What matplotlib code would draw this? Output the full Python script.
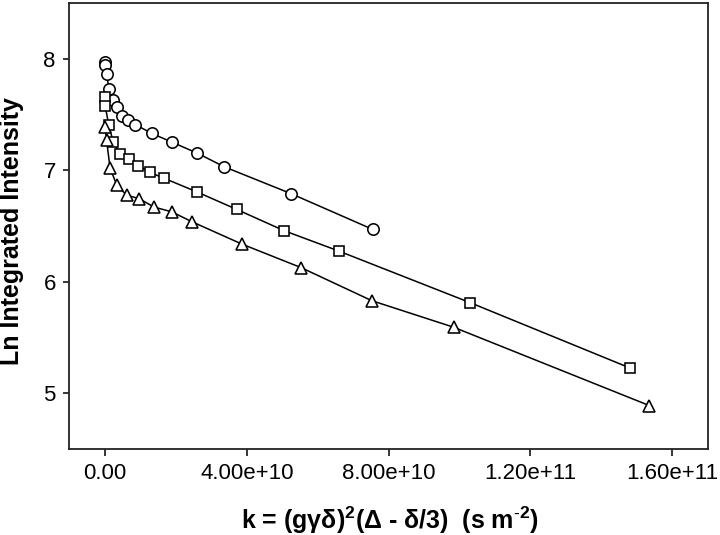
import matplotlib
matplotlib.use("Agg")
import matplotlib.pyplot as plt
from matplotlib.ticker import FuncFormatter, FixedLocator

plt.rcParams['font.family'] = ['Liberation Sans', 'DejaVu Sans']
plt.rcParams['mathtext.fontset'] = 'custom'
plt.rcParams['mathtext.rm'] = 'Liberation Sans'
plt.rcParams['mathtext.bf'] = 'Liberation Sans:bold'
plt.rcParams['mathtext.it'] = 'Liberation Sans:italic'

# Data (k in s m^-2, ln integrated intensity)
k_circle = [0, 0.02e9, 0.4e9, 1.1e9, 2.3e9, 3.4e9, 4.7e9, 6.5e9, 8.5e9,
            1.32e10, 1.90e10, 2.59e10, 3.37e10, 5.25e10, 7.55e10]
y_circle = [7.97, 7.94, 7.86, 7.73, 7.63, 7.57, 7.49, 7.45, 7.41,
            7.33, 7.25, 7.155, 7.03, 6.79, 6.47]

k_square = [0, 0.02e9, 1.0e9, 2.3e9, 4.2e9, 6.6e9, 9.4e9, 1.27e10, 1.65e10,
            2.59e10, 3.72e10, 5.06e10, 6.60e10, 1.031e11, 1.483e11]
y_square = [7.656, 7.576, 7.41, 7.25, 7.15, 7.10, 7.04, 6.98, 6.93,
            6.806, 6.648, 6.457, 6.275, 5.812, 5.225]

k_tri = [0, 0.4e9, 1.4e9, 3.3e9, 6.1e9, 9.6e9, 1.38e10, 1.88e10, 2.46e10,
         3.86e10, 5.53e10, 7.53e10, 9.84e10, 1.536e11]
y_tri = [7.385, 7.27, 7.02, 6.865, 6.777, 6.745, 6.67, 6.627, 6.537,
         6.338, 6.127, 5.83, 5.592, 4.89]

x_ticks = [0, 4.0e10, 8.0e10, 1.2e11, 1.6e11]
y_ticks = [5, 6, 7, 8]

fig = plt.figure(figsize=(7.2, 5.35), dpi=100)
ax = fig.add_axes([69/720, 1-449/535, (708-69)/720, (449-3)/535])

common = dict(color='black', lw=1.1, mfc='white', mec='black', mew=1.15, zorder=3)
ax.plot(k_circle, y_circle, marker='o', ms=8.2, **common)
ax.plot(k_square, y_square, marker='s', ms=7.4, **common)
ax.plot(k_tri, y_tri, marker='^', ms=8.4, **common)

ax.set_xlim(-1.02e10, 1.702e11)
ax.set_ylim(4.5, 8.5)
ax.xaxis.set_major_locator(FixedLocator(x_ticks))
ax.yaxis.set_major_locator(FixedLocator(y_ticks))
ax.xaxis.set_major_formatter(FuncFormatter(lambda v, p: "0.00" if v == 0 else f"{v:.2e}"))
ax.yaxis.set_major_formatter(FuncFormatter(lambda v, p: f"{int(round(v))}"))

ax.tick_params(axis='x', direction='out', length=5, width=1.1, labelsize=16, pad=5)
ax.tick_params(axis='y', direction='out', length=4.5, width=1.1, labelsize=16, pad=5)
ax.tick_params(top=False, right=False)
for s in ax.spines.values():
    s.set_linewidth(1.3)
    s.set_color('#222222')

ax.set_xlabel('k = (gγδ)$^{\\mathbf{2}}$(Δ - δ/3)  (s m$^{\\mathbf{\\text{-}2}}$)',
              fontsize=18, fontweight='bold')
ax.set_ylabel('Ln Integrated Intensity', fontsize=18, fontweight='bold')
ax.yaxis.set_label_coords(-0.0705, 0.489)
ax.xaxis.set_label_coords(0.5015, -0.124)

fig.savefig('out.png', dpi=100)
